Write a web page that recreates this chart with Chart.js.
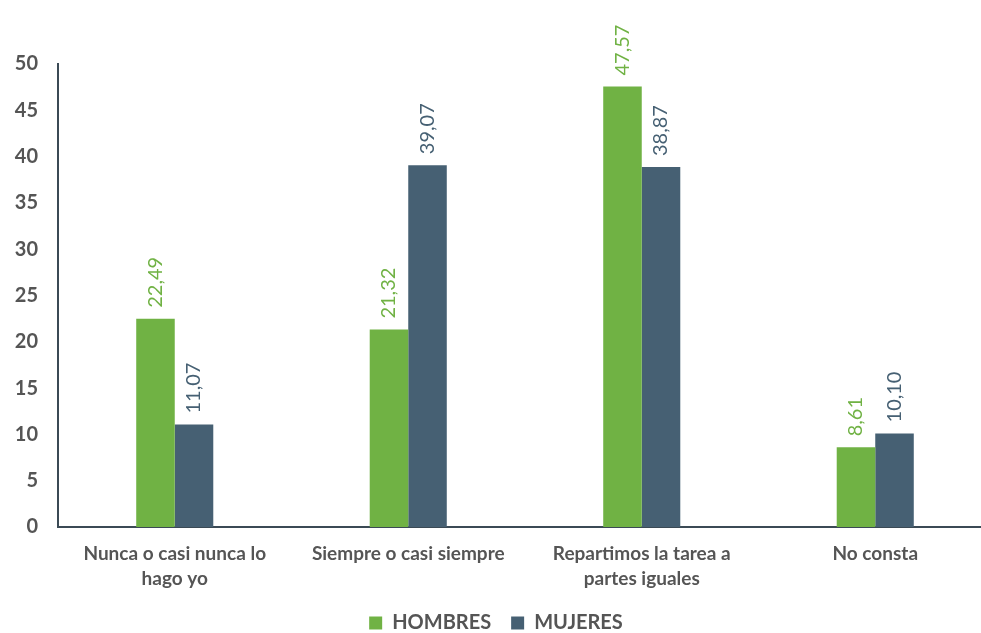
<!DOCTYPE html>
<html><head><meta charset="utf-8">
<script src="https://cdn.jsdelivr.net/npm/chart.js@4"></script>
<style>html,body{margin:0;padding:0;overflow:hidden;background:#fff}#wrap{width:992px;height:633px;position:relative}</style>
</head><body><div id="wrap"><canvas id="c"></canvas></div>
<script>
const categories = [['Nunca o casi nunca lo','hago yo'], 'Siempre o casi siempre', ['Repartimos la tarea a','partes iguales'], 'No consta'];
const hombres = [22.49, 21.32, 47.57, 8.61];
const mujeres = [11.07, 39.07, 38.87, 10.10];
const seriesNames = ['HOMBRES', 'MUJERES'];
const yTicks = [0,5,10,15,20,25,30,35,40,45,50];

const GREEN = '#70b244', BLUE = '#466073', TXT = '#555555', AX = '#3b4a55';
const FONT = 'Lato';

const labelPlugin = {
  id: 'vlabels',
  afterDatasetsDraw(chart) {
    const ctx = chart.ctx;
    chart.data.datasets.forEach((ds, i) => {
      const meta = chart.getDatasetMeta(i);
      meta.data.forEach((bar, j) => {
        const v = ds.data[j];
        ctx.save();
        ctx.translate(bar.x, bar.y - 11);
        ctx.rotate(-Math.PI/2);
        ctx.font = '20px ' + FONT;
        ctx.fillStyle = ds.backgroundColor;
        ctx.textAlign = 'left';
        ctx.textBaseline = 'middle';
        ctx.fillText(v.toFixed(2).replace('.', ','), 0, 0);
        ctx.restore();
      });
    });
  }
};

new Chart(document.getElementById('c'), {
  type: 'bar',
  data: {
    labels: categories,
    datasets: [
      {label: seriesNames[0], data: hombres, backgroundColor: GREEN},
      {label: seriesNames[1], data: mujeres, backgroundColor: BLUE}
    ]
  },
  options: {
    responsive: true,
    maintainAspectRatio: false,
    animation: false,
    layout: {padding: {top: 64, left: 0, right: 0, bottom: -10}},
    datasets: {bar: {categoryPercentage: 0.33, barPercentage: 1}},
    plugins: {
      tooltip: {enabled: false},
      legend: {
        position: 'bottom',
        labels: {font: {family: FONT, size: 20, weight: 'bold'}, color: TXT, boxWidth: 13, boxHeight: 13, padding: 20}
      }
    },
    scales: {
      x: {
        grid: {display: false},
        border: {display: true, color: AX, width: 2},
        ticks: {font: {family: FONT, size: 19, weight: 'bold', lineHeight: 1.3}, color: TXT, padding: 7, maxRotation: 0, autoSkip: false},
        afterFit(s) { s.height = 66; }
      },
      y: {
        min: 0, max: 50,
        afterBuildTicks(s) { s.ticks = yTicks.map(v => ({value: v})); },
        grid: {display: false, drawTicks: false},
        border: {display: true, color: AX, width: 2},
        ticks: {font: {family: FONT, size: 20, weight: 'bold'}, color: TXT, padding: 20},
        afterFit(s) { s.width = 58; }
      }
    }
  },
  plugins: [labelPlugin]
});
</script></body></html>
